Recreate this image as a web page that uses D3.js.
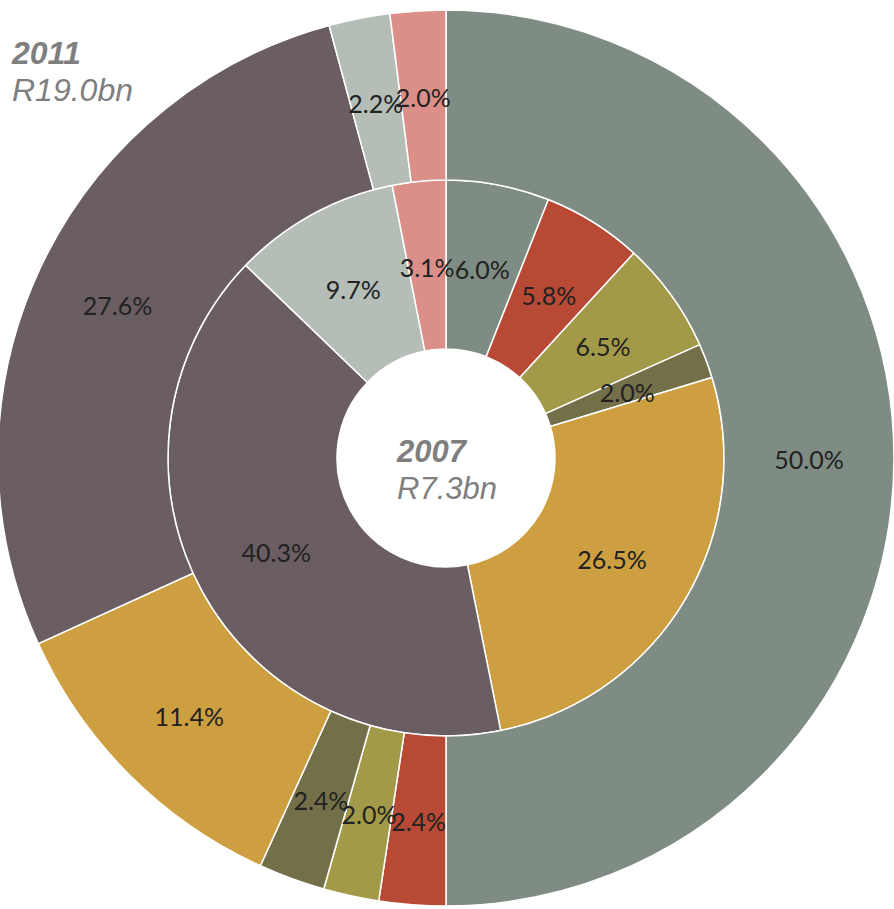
<!DOCTYPE html>
<html>
<head>
<meta charset="utf-8">
<script src="https://cdn.jsdelivr.net/npm/d3@7"></script>
<style>
  html, body { margin: 0; padding: 0; background: #fff; }
  svg { display: block; }
</style>
</head>
<body>
<div id="data-vis"></div>
<script>
//DATA
//Slice categories (same order in both rings, clockwise from 12 o'clock)
const categories = ["A", "B", "C", "D", "E", "F", "G", "H"];
//Share of total, 2007 (inner ring)
const values2007 = [6.0, 5.8, 6.5, 2.0, 26.5, 40.3, 9.7, 3.1];
//Share of total, 2011 (outer ring)
const values2011 = [50.0, 2.4, 2.0, 2.4, 11.4, 27.6, 2.2, 2.0];
//Ring titles
const ringTitles = [
    { year: "2007", total: "R7.3bn" },
    { year: "2011", total: "R19.0bn" }
];

//Slice colours
const colours = ["#7f8c83", "#b84a35", "#a29a48", "#737049", "#cd9f40", "#6a5e62", "#b5bdb7", "#dc8f88"];

//SCRIPT PROPERTIES
const w = 894;
const h = 909;
const cx = 446, cy = 458;
const rHole = 109, rMid = 278, rOuter = 448;

const labelFont = "'Century Gothic', Futura, Lato, 'DejaVu Sans', sans-serif";
const titleFont = "Arial, 'Liberation Sans', sans-serif";

function draw() {
    const svg = d3.select("#data-vis")
        .append("svg")
        .attr("width", w)
        .attr("height", h);

    const colour = d3.scaleOrdinal().domain(categories).range(colours);

    //Keep data order, start at the top
    const pie = d3.pie().sort(null).value(d => d.value);

    const rings = [
        { values: values2007, inner: rHole, outer: rMid },
        { values: values2011, inner: rMid, outer: rOuter }
    ];

    const g = svg.append("g").attr("transform", `translate(${cx},${cy})`);

    rings.forEach(ring => {
        const arc = d3.arc().innerRadius(ring.inner).outerRadius(ring.outer);
        const data = pie(categories.map((c, i) => ({ cat: c, value: ring.values[i] })));

        const rg = g.append("g");

        rg.selectAll("path")
            .data(data)
            .enter()
            .append("path")
            .attr("d", arc)
            .attr("fill", d => colour(d.data.cat))
            .attr("stroke", "#fff")
            .attr("stroke-width", 1.5);

        rg.selectAll("text")
            .data(data)
            .enter()
            .append("text")
            .attr("transform", d => `translate(${arc.centroid(d)})`)
            .attr("text-anchor", "middle")
            .attr("dy", "0.45em")
            .style("font-family", labelFont)
            .style("font-size", "25px")
            .style("fill", "#222")
            .text(d => d.data.value.toFixed(1) + "%");
    });

    //Ring titles: 2007 in the hole, 2011 top left
    const titlePos = [[397, 462], [12, 64]];
    ringTitles.forEach((t, i) => {
        const txt = svg.append("text")
            .attr("x", titlePos[i][0])
            .attr("y", titlePos[i][1])
            .style("font-family", titleFont)
            .style("font-size", i === 0 ? "31px" : "32px")
            .style("font-style", "italic")
            .style("fill", "#7f7f7f");
        txt.append("tspan")
            .style("font-weight", "bold")
            .text(t.year);
        txt.append("tspan")
            .attr("x", titlePos[i][0])
            .attr("dy", 37)
            .text(t.total);
    });
}

draw();
</script>
</body>
</html>
